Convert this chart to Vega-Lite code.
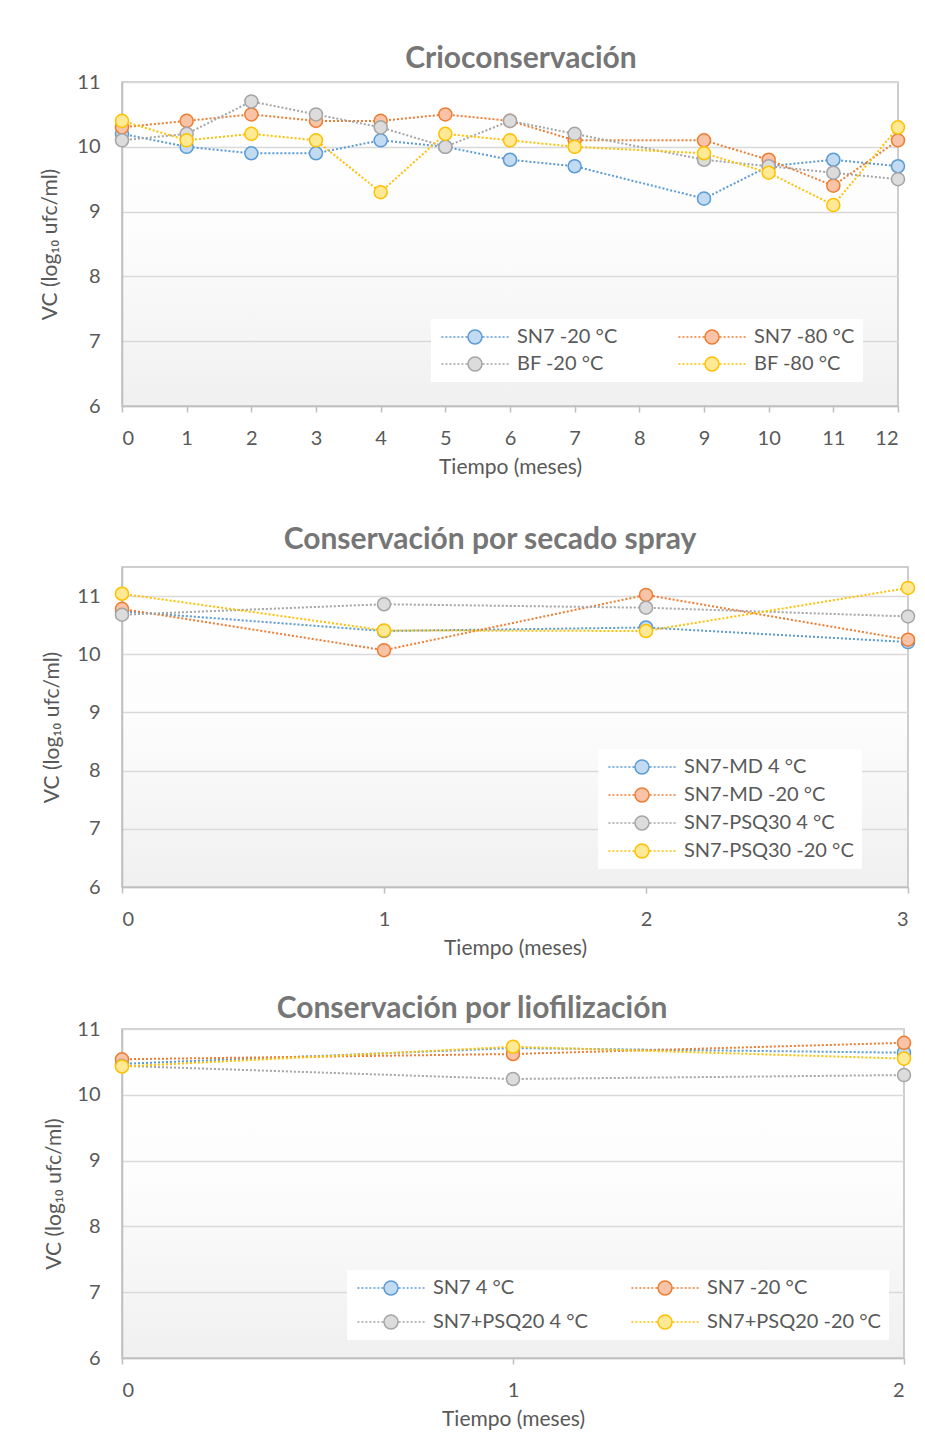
{
  "$schema": "https://vega.github.io/schema/vega-lite/v6.json",
  "background": "#ffffff",
  "padding": {"top": 43, "left": 39, "right": 0, "bottom": 0},
  "config": {
    "font": "Lato",
    "view": {"stroke": "#bfbfbf", "strokeWidth": 1.5, "fill": {"gradient": "linear", "x1": 0, "y1": 0, "x2": 0, "y2": 1, "stops": [{"offset": 0, "color": "#ffffff"}, {"offset": 0.45, "color": "#fdfdfd"}, {"offset": 1, "color": "#f0f0f0"}]}},
    "title": {"fontSize": 30, "fontWeight": "bold", "color": "#767676", "font": "Lato", "anchor": "middle"},
    "axis": {"labelFont": "Lato", "titleFont": "Lato", "labelFontSize": 20, "titleFontSize": 21, "labelColor": "#595959", "titleColor": "#595959", "titleFontWeight": "normal", "domainColor": "#bfbfbf", "domainWidth": 1.5, "tickColor": "#bfbfbf", "tickWidth": 1.5, "gridColor": "#d9d9d9", "gridWidth": 1.5, "format": "d"},
    "axisX": {"grid": false, "tickSize": 6, "labelPadding": 16, "titlePadding": 8},
    "axisY": {"ticks": false, "labelPadding": 22},
    "legend": {"orient": "none", "title": null, "symbolType": "M-4.8,0H-4.51M-4.23,0H-3.94M-3.66,0H-3.37M-3.09,0H-2.8M-2.52,0H-2.23M-1.95,0H-1.66M-1.38,0H-1.09M1.09,0H1.38M1.66,0H1.95M2.23,0H2.52M2.8,0H3.09M3.37,0H3.66M3.94,0H4.23M4.51,0H4.8M1,0A1,1,0,1,1,-1,0A1,1,0,1,1,1,0Z", "symbolSize": 196, "symbolOffset": 26, "labelOffset": 32, "symbolStrokeWidth": 1.5, "labelFontSize": 20, "labelLimit": 300, "labelColor": "#595959", "labelFont": "Lato", "fillColor": "#ffffff", "padding": 8}
  },
  "datasets": {
    "crio": [
      {"serie": "SN7 -20 °C", "t": 0, "vc": 10.2}, {"serie": "SN7 -20 °C", "t": 1, "vc": 10.0}, {"serie": "SN7 -20 °C", "t": 2, "vc": 9.9}, {"serie": "SN7 -20 °C", "t": 3, "vc": 9.9}, {"serie": "SN7 -20 °C", "t": 4, "vc": 10.1}, {"serie": "SN7 -20 °C", "t": 5, "vc": 10.0}, {"serie": "SN7 -20 °C", "t": 6, "vc": 9.8}, {"serie": "SN7 -20 °C", "t": 7, "vc": 9.7}, {"serie": "SN7 -20 °C", "t": 9, "vc": 9.2}, {"serie": "SN7 -20 °C", "t": 10, "vc": 9.7}, {"serie": "SN7 -20 °C", "t": 11, "vc": 9.8}, {"serie": "SN7 -20 °C", "t": 12, "vc": 9.7},
      {"serie": "SN7 -80 °C", "t": 0, "vc": 10.3}, {"serie": "SN7 -80 °C", "t": 1, "vc": 10.4}, {"serie": "SN7 -80 °C", "t": 2, "vc": 10.5}, {"serie": "SN7 -80 °C", "t": 3, "vc": 10.4}, {"serie": "SN7 -80 °C", "t": 4, "vc": 10.4}, {"serie": "SN7 -80 °C", "t": 5, "vc": 10.5}, {"serie": "SN7 -80 °C", "t": 6, "vc": 10.4}, {"serie": "SN7 -80 °C", "t": 7, "vc": 10.1}, {"serie": "SN7 -80 °C", "t": 9, "vc": 10.1}, {"serie": "SN7 -80 °C", "t": 10, "vc": 9.8}, {"serie": "SN7 -80 °C", "t": 11, "vc": 9.4}, {"serie": "SN7 -80 °C", "t": 12, "vc": 10.1},
      {"serie": "BF -20 °C", "t": 0, "vc": 10.1}, {"serie": "BF -20 °C", "t": 1, "vc": 10.2}, {"serie": "BF -20 °C", "t": 2, "vc": 10.7}, {"serie": "BF -20 °C", "t": 3, "vc": 10.5}, {"serie": "BF -20 °C", "t": 4, "vc": 10.3}, {"serie": "BF -20 °C", "t": 5, "vc": 10.0}, {"serie": "BF -20 °C", "t": 6, "vc": 10.4}, {"serie": "BF -20 °C", "t": 7, "vc": 10.2}, {"serie": "BF -20 °C", "t": 9, "vc": 9.8}, {"serie": "BF -20 °C", "t": 10, "vc": 9.7}, {"serie": "BF -20 °C", "t": 11, "vc": 9.6}, {"serie": "BF -20 °C", "t": 12, "vc": 9.5},
      {"serie": "BF -80 °C", "t": 0, "vc": 10.4}, {"serie": "BF -80 °C", "t": 1, "vc": 10.1}, {"serie": "BF -80 °C", "t": 2, "vc": 10.2}, {"serie": "BF -80 °C", "t": 3, "vc": 10.1}, {"serie": "BF -80 °C", "t": 4, "vc": 9.3}, {"serie": "BF -80 °C", "t": 5, "vc": 10.2}, {"serie": "BF -80 °C", "t": 6, "vc": 10.1}, {"serie": "BF -80 °C", "t": 7, "vc": 10.0}, {"serie": "BF -80 °C", "t": 9, "vc": 9.9}, {"serie": "BF -80 °C", "t": 10, "vc": 9.6}, {"serie": "BF -80 °C", "t": 11, "vc": 9.1}, {"serie": "BF -80 °C", "t": 12, "vc": 10.3}
    ],
    "spray": [
      {"serie": "SN7-MD 4 °C", "t": 0, "vc": 10.74}, {"serie": "SN7-MD 4 °C", "t": 1, "vc": 10.40}, {"serie": "SN7-MD 4 °C", "t": 2, "vc": 10.46}, {"serie": "SN7-MD 4 °C", "t": 3, "vc": 10.21},
      {"serie": "SN7-MD -20 °C", "t": 0, "vc": 10.78}, {"serie": "SN7-MD -20 °C", "t": 1, "vc": 10.07}, {"serie": "SN7-MD -20 °C", "t": 2, "vc": 11.02}, {"serie": "SN7-MD -20 °C", "t": 3, "vc": 10.25},
      {"serie": "SN7-PSQ30 4 °C", "t": 0, "vc": 10.68}, {"serie": "SN7-PSQ30 4 °C", "t": 1, "vc": 10.86}, {"serie": "SN7-PSQ30 4 °C", "t": 2, "vc": 10.80}, {"serie": "SN7-PSQ30 4 °C", "t": 3, "vc": 10.65},
      {"serie": "SN7-PSQ30 -20 °C", "t": 0, "vc": 11.04}, {"serie": "SN7-PSQ30 -20 °C", "t": 1, "vc": 10.41}, {"serie": "SN7-PSQ30 -20 °C", "t": 2, "vc": 10.40}, {"serie": "SN7-PSQ30 -20 °C", "t": 3, "vc": 11.14}
    ],
    "lio": [
      {"serie": "SN7 4 °C", "t": 0, "vc": 10.47}, {"serie": "SN7 4 °C", "t": 1, "vc": 10.71}, {"serie": "SN7 4 °C", "t": 2, "vc": 10.64},
      {"serie": "SN7 -20 °C", "t": 0, "vc": 10.54}, {"serie": "SN7 -20 °C", "t": 1, "vc": 10.62}, {"serie": "SN7 -20 °C", "t": 2, "vc": 10.79},
      {"serie": "SN7+PSQ20 4 °C", "t": 0, "vc": 10.44}, {"serie": "SN7+PSQ20 4 °C", "t": 1, "vc": 10.24}, {"serie": "SN7+PSQ20 4 °C", "t": 2, "vc": 10.30},
      {"serie": "SN7+PSQ20 -20 °C", "t": 0, "vc": 10.43}, {"serie": "SN7+PSQ20 -20 °C", "t": 1, "vc": 10.73}, {"serie": "SN7+PSQ20 -20 °C", "t": 2, "vc": 10.55}
    ]
  },
  "spacing": 34,
  "resolve": {"scale": {"x": "independent", "y": "independent", "stroke": "independent", "fill": "independent"}, "legend": {"stroke": "independent", "fill": "independent"}},
  "vconcat": [
    {
      "spacing": 46,
      "resolve": {"scale": {"x": "independent", "y": "independent", "stroke": "independent", "fill": "independent"}, "legend": {"stroke": "independent", "fill": "independent"}},
      "vconcat": [
        {
          "data": {"name": "crio"},
          "width": 776,
          "height": 324,
          "title": {"text": "Crioconservación", "offset": -2, "dx": 11},
          "encoding": {
            "x": {"field": "t", "type": "quantitative", "scale": {"domain": [0, 12], "nice": false}, "axis": {"values": [0, 1, 2, 3, 4, 5, 6, 7, 8, 9, 10, 11, 12], "title": "Tiempo (meses)"}},
            "y": {"field": "vc", "type": "quantitative", "scale": {"domain": [6, 11], "nice": false, "zero": false}, "axis": {"values": [6, 7, 8, 9, 10, 11], "title": "VC (log₁₀ ufc/ml)", "titlePadding": 16}},
            "stroke": {"field": "serie", "type": "nominal", "scale": {"domain": ["SN7 -20 °C", "BF -20 °C", "SN7 -80 °C", "BF -80 °C"], "range": ["#5b9bd5", "#a5a5a5", "#ed7d31", "#ffc000"]}, "legend": {"legendX": 309, "legendY": 237, "columns": 2, "columnPadding": 57, "rowPadding": 7}}
          },
          "layer": [
            {"mark": {"type": "line", "strokeDash": [2, 2], "strokeWidth": 2}},
            {"mark": {"type": "point", "filled": true, "size": 170, "strokeWidth": 1.5, "opacity": 1},
             "encoding": {"fill": {"field": "serie", "type": "nominal", "scale": {"domain": ["SN7 -20 °C", "BF -20 °C", "SN7 -80 °C", "BF -80 °C"], "range": ["#c3dbf2", "#dcdcdc", "#f8c3a6", "#ffe994"]}, "legend": {"legendX": 309, "legendY": 237, "columns": 2, "columnPadding": 57, "rowPadding": 7}}}}
          ]
        },
        {
          "data": {"name": "spray"},
          "width": 786,
          "height": 320,
          "title": {"text": "Conservación por secado spray", "offset": 12, "dx": -25},
          "encoding": {
            "x": {"field": "t", "type": "quantitative", "scale": {"domain": [0, 3], "nice": false}, "axis": {"values": [0, 1, 2, 3], "title": "Tiempo (meses)"}},
            "y": {"field": "vc", "type": "quantitative", "scale": {"domain": [6, 11.5], "nice": false, "zero": false}, "axis": {"values": [6, 7, 8, 9, 10, 11], "title": "VC (log₁₀ ufc/ml)", "titlePadding": 14}},
            "stroke": {"field": "serie", "type": "nominal", "scale": {"domain": ["SN7-MD 4 °C", "SN7-MD -20 °C", "SN7-PSQ30 4 °C", "SN7-PSQ30 -20 °C"], "range": ["#5b9bd5", "#ed7d31", "#a5a5a5", "#ffc000"]}, "legend": {"legendX": 476, "legendY": 182, "columns": 1, "rowPadding": 8}}
          },
          "layer": [
            {"mark": {"type": "line", "strokeDash": [2, 2], "strokeWidth": 2}},
            {"mark": {"type": "point", "filled": true, "size": 170, "strokeWidth": 1.5, "opacity": 1},
             "encoding": {"fill": {"field": "serie", "type": "nominal", "scale": {"domain": ["SN7-MD 4 °C", "SN7-MD -20 °C", "SN7-PSQ30 4 °C", "SN7-PSQ30 -20 °C"], "range": ["#c3dbf2", "#f8c3a6", "#dcdcdc", "#ffe994"]}, "legend": {"legendX": 476, "legendY": 182, "columns": 1, "rowPadding": 8}}}}
          ]
        }
      ]
    },
    {
      "data": {"name": "lio"},
      "width": 782,
      "height": 329,
      "title": {"text": "Conservación por liofilización", "offset": -5, "dx": -41},
      "encoding": {
        "x": {"field": "t", "type": "quantitative", "scale": {"domain": [0, 2], "nice": false}, "axis": {"values": [0, 1, 2], "title": "Tiempo (meses)"}},
        "y": {"field": "vc", "type": "quantitative", "scale": {"domain": [6, 11], "nice": false, "zero": false}, "axis": {"values": [6, 7, 8, 9, 10, 11], "title": "VC (log₁₀ ufc/ml)", "titlePadding": 12}},
        "stroke": {"field": "serie", "type": "nominal", "scale": {"domain": ["SN7 4 °C", "SN7+PSQ20 4 °C", "SN7 -20 °C", "SN7+PSQ20 -20 °C"], "range": ["#5b9bd5", "#a5a5a5", "#ed7d31", "#ffc000"]}, "legend": {"legendX": 225, "legendY": 241, "columns": 2, "columnPadding": 40, "rowPadding": 14}}
      },
      "layer": [
        {"mark": {"type": "line", "strokeDash": [2, 2], "strokeWidth": 2}},
        {"mark": {"type": "point", "filled": true, "size": 170, "strokeWidth": 1.5, "opacity": 1},
         "encoding": {"fill": {"field": "serie", "type": "nominal", "scale": {"domain": ["SN7 4 °C", "SN7+PSQ20 4 °C", "SN7 -20 °C", "SN7+PSQ20 -20 °C"], "range": ["#c3dbf2", "#dcdcdc", "#f8c3a6", "#ffe994"]}, "legend": {"legendX": 225, "legendY": 241, "columns": 2, "columnPadding": 40, "rowPadding": 14}}}}
      ]
    }
  ]
}
